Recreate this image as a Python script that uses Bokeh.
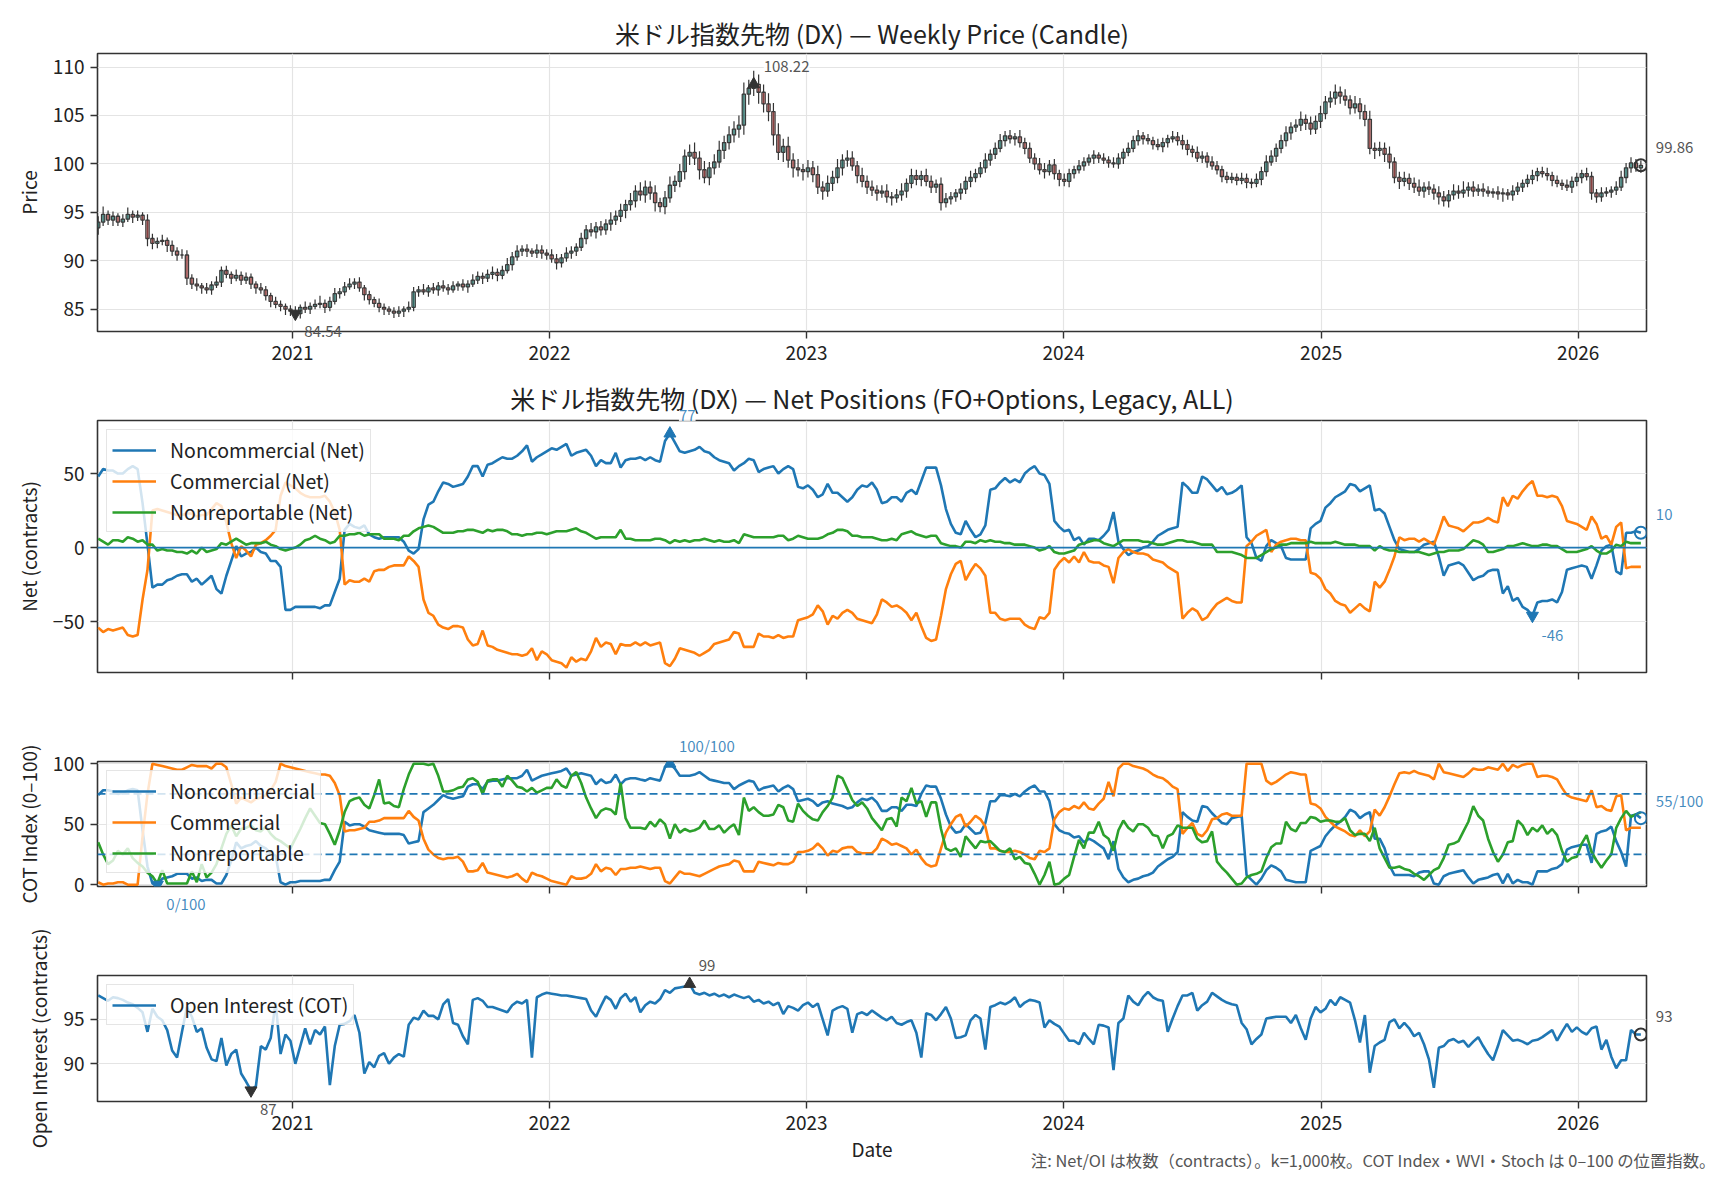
import numpy as np
import pandas as pd
from bokeh.plotting import figure
from bokeh.models import Range1d, FixedTicker, DatetimeTickFormatter, Span, Label
from bokeh.layouts import column
from bokeh.embed import file_html
from bokeh.resources import INLINE

FONT = "Noto Sans CJK JP"

# ---------------- data (weekly, from 2020-03-31) ----------------
close = [
94.0, 94.8, 94.2, 94.6, 94.0, 94.3, 94.8, 94.5, 94.7, 94.2,
92.3, 91.8, 92.0, 92.1, 91.6, 91.0, 90.6, 90.6, 88.2, 87.6,
87.4, 87.2, 87.0, 87.5, 87.8, 89.0, 88.6, 88.2, 88.5, 88.0,
88.3, 87.6, 87.2, 87.0, 86.4, 85.8, 85.5, 85.3, 85.0, 84.8,
84.54, 85.2, 85.0, 85.3, 85.5, 85.6, 85.2, 85.8, 86.6, 86.8,
87.3, 87.6, 87.8, 87.2, 86.5, 86.0, 85.6, 85.2, 85.0, 84.8,
84.6, 84.8, 85.0, 85.2, 86.8, 87.0, 86.8, 87.2, 87.0, 87.4,
87.2, 87.0, 87.4, 87.6, 87.3, 87.6, 88.0, 88.4, 88.2, 88.6,
88.8, 88.5, 89.0, 89.6, 90.4, 91.0, 91.2, 91.0, 90.8, 91.1,
90.8, 90.6, 90.2, 89.8, 90.3, 90.8, 91.0, 91.4, 92.3, 93.2,
93.0, 93.5, 93.2, 93.8, 94.2, 94.6, 95.2, 95.8, 96.2, 97.2,
96.8, 97.6, 97.0, 96.0, 95.6, 96.5, 97.8, 98.2, 99.2, 100.8,
101.2, 100.6, 99.4, 98.6, 99.6, 100.2, 101.4, 102.2, 103.0, 103.6,
104.0, 107.2, 107.8, 108.22, 107.4, 106.2, 105.4, 103.0, 101.2, 101.8,
100.4, 99.6, 99.4, 99.2, 99.6, 98.9, 97.6, 97.2, 98.0, 98.6,
99.6, 100.4, 100.6, 99.8, 98.8, 98.2, 97.6, 97.3, 97.0, 97.2,
96.6, 96.5, 96.8, 97.2, 98.0, 98.8, 98.4, 98.8, 98.2, 97.6,
97.9, 96.0, 96.4, 96.6, 97.0, 97.4, 98.2, 98.6, 99.0, 99.6,
100.4, 101.0, 101.6, 102.4, 102.9, 102.6, 102.8, 102.2, 101.6, 100.6,
100.0, 99.4, 99.2, 99.9, 99.0, 98.4, 98.2, 99.0, 99.4, 99.8,
100.2, 100.6, 100.9, 100.6, 100.4, 100.1, 100.0, 100.6, 101.2, 101.6,
102.4, 102.9, 102.6, 102.4, 102.0, 101.8, 102.2, 102.6, 102.8, 102.4,
102.0, 101.5, 101.2, 100.6, 100.8, 100.2, 99.8, 99.4, 98.7, 98.4,
98.6, 98.3, 98.5, 98.1, 98.0, 98.4, 99.2, 100.2, 100.8, 101.6,
102.4, 103.2, 103.8, 104.0, 104.6, 104.2, 103.6, 104.4, 105.2, 106.4,
106.8, 107.4, 107.0, 106.6, 105.8, 106.2, 105.4, 104.6, 101.6, 101.4,
101.6, 101.0, 100.2, 98.6, 98.2, 98.5, 98.0, 97.6, 97.2, 97.6,
97.4, 97.0, 96.6, 96.2, 96.8, 97.2, 97.0, 97.3, 97.6, 97.2,
97.4, 97.2, 97.0, 97.1, 96.9, 97.0, 96.8, 97.2, 97.6, 98.0,
98.4, 98.8, 99.2, 99.0, 98.8, 98.3, 98.0, 97.8, 97.6, 98.2,
98.6, 99.0, 98.7, 97.0, 96.6, 97.0, 97.1, 97.3, 97.6, 98.6,
99.6, 100.1, 99.6, 99.86]
first_open = 93.4

wick_up = [
0.6,0.8,0.4,0.5,0.3,0.5,0.7,0.4,0.5,0.3, 0.6,0.5,0.4,0.6,0.3,0.5,0.4,0.6,0.5,0.4,
0.6,0.3,0.5,0.4,0.6,0.4,0.5,0.3,0.6,0.4, 0.5,0.4,0.3,0.5,0.4,0.3,0.5,0.4,0.3,0.4,
0.5,0.3,0.6,0.4,0.5,0.8,0.4,0.5,0.6,0.4, 0.5,0.6,0.4,0.5,0.3,0.4,0.3,0.5,0.4,0.3,
0.4,0.5,0.3,0.6,0.5,0.4,0.6,0.3,0.5,0.4, 0.6,0.4,0.5,0.3,0.5,0.4,0.6,0.5,0.4,0.5,
0.6,0.4,0.5,0.7,0.5,0.6,0.4,0.5,0.3,0.6, 0.5,0.4,0.6,0.5,0.4,0.6,0.5,0.4,0.6,0.5,
0.7,0.5,0.6,0.5,0.8,0.6,0.7,0.5,0.8,0.6, 0.9,0.7,0.6,0.8,0.5,0.7,0.9,0.6,0.8,0.7,
0.8,1.0,0.7,0.9,0.6,0.8,1.0,0.7,0.9,0.8, 1.0,1.2,0.9,1.4,1.0,0.8,1.1,0.9,1.2,0.8,
1.0,0.7,0.9,0.6,0.8,0.7,0.9,0.6,0.8,0.7, 0.9,0.6,0.8,0.7,0.5,0.8,0.6,0.7,0.5,0.6,
0.7,0.5,0.6,0.8,0.5,0.7,0.6,0.5,0.7,0.6, 0.5,0.7,0.6,0.5,0.4,0.6,0.5,0.7,0.5,0.6,
0.7,0.5,0.6,0.7,0.5,0.6,0.4,0.7,0.5,0.6, 0.5,0.6,0.7,0.5,0.6,0.4,0.6,0.5,0.4,0.6,
0.5,0.4,0.5,0.3,0.5,0.4,0.6,0.5,0.4,0.6, 0.5,0.6,0.4,0.5,0.4,0.6,0.5,0.4,0.6,0.5,
0.6,0.5,0.4,0.6,0.5,0.4,0.6,0.5,0.4,0.5, 0.5,0.4,0.6,0.5,0.4,0.6,0.5,0.7,0.6,0.5,
0.6,0.7,0.5,0.6,0.8,0.5,0.7,0.6,0.8,0.6, 0.7,0.8,0.6,0.7,0.5,0.8,0.6,0.7,0.9,0.6,
0.7,0.6,0.8,0.5,0.6,0.7,0.5,0.6,0.8,0.5, 0.6,0.5,0.7,0.6,0.5,0.7,0.6,0.9,0.5,0.6,
0.5,0.6,0.5,0.4,0.6,0.5,0.4,0.6,0.5,0.4, 0.5,0.6,0.4,0.5,0.6,0.4,0.5,0.4,0.6,0.5,
0.5,0.4,0.6,0.5,0.4,0.6,0.5,0.4,0.6,0.7, 0.5,0.6,0.4,0.5]

wick_dn = [
0.7,0.4,0.5,0.6,0.4,0.5,0.3,0.6,0.4,0.5, 0.8,0.6,0.5,0.4,0.7,0.5,0.6,0.4,0.7,0.5,
0.5,0.6,0.4,0.5,0.3,0.5,0.4,0.6,0.3,0.5, 0.4,0.5,0.6,0.4,0.5,0.6,0.4,0.5,0.6,0.5,
0.6,0.5,0.4,0.5,0.3,0.4,0.6,0.4,0.3,0.5, 0.4,0.3,0.5,0.4,0.6,0.5,0.4,0.5,0.6,0.4,
0.5,0.4,0.6,0.3,0.4,0.5,0.3,0.5,0.4,0.6, 0.4,0.5,0.3,0.5,0.4,0.6,0.3,0.4,0.6,0.4,
0.5,0.6,0.4,0.3,0.6,0.4,0.5,0.6,0.4,0.5, 0.6,0.5,0.4,0.7,0.5,0.4,0.6,0.5,0.4,0.6,
0.5,0.7,0.6,0.5,0.7,0.5,0.6,0.8,0.6,0.7, 0.6,0.8,0.7,0.9,0.6,0.8,0.5,0.7,0.6,0.8,
0.9,0.7,1.0,0.6,0.8,0.7,0.6,0.9,0.7,0.8, 0.9,1.0,1.1,0.8,1.2,0.9,1.0,1.1,0.8,1.0,
0.8,1.0,0.7,0.9,0.6,0.8,0.7,0.9,0.6,0.8, 0.6,0.8,0.7,0.5,0.8,0.6,0.7,0.6,0.8,0.5,
0.6,0.8,0.5,0.6,0.7,0.5,0.6,0.7,0.5,0.6, 0.6,0.8,0.5,0.6,0.5,0.7,0.5,0.6,0.5,0.4,
0.5,0.6,0.5,0.4,0.6,0.5,0.7,0.5,0.6,0.5, 0.6,0.5,0.7,0.4,0.6,0.7,0.5,0.6,0.5,0.4,
0.5,0.4,0.6,0.5,0.4,0.5,0.4,0.5,0.6,0.4, 0.4,0.5,0.6,0.4,0.5,0.4,0.6,0.5,0.4,0.5,
0.5,0.6,0.5,0.4,0.5,0.6,0.4,0.5,0.6,0.4, 0.4,0.5,0.4,0.6,0.5,0.4,0.6,0.5,0.4,0.6,
0.5,0.6,0.7,0.5,0.6,0.7,0.6,0.5,0.7,0.6, 0.6,0.7,0.8,0.6,0.7,0.6,0.8,0.7,0.6,0.9,
0.6,0.8,0.7,0.6,0.8,0.5,0.7,0.6,0.5,0.7, 0.6,0.7,0.8,0.6,0.7,0.5,0.6,0.5,0.7,0.6,
0.5,0.6,0.4,0.5,0.6,0.8,0.5,0.6,0.4,0.5, 0.4,0.5,0.6,0.4,0.5,0.6,0.4,0.5,0.4,0.6,
0.5,0.6,0.4,0.7,0.6,0.5,0.4,0.6,0.5,0.4, 0.6,0.5,0.4,0.5]

# Net positions (thousand contracts)
net_noncomm = [
48,53,52,52,50,50,53,55,53,30, 2,-27,-25,-25,-22,-21,-19,-18,-18,-23,
-21,-25,-22,-19,-28,-31,-19,-9,1,-6, -4,-3,0,-3,-4,-9,-9,-13,-42,-42,
-40,-40,-40,-40,-40,-41,-39,-39,-30,-21, 12,16,14,13,15,9,7,6,7,7,
7,7,4,-2,-4,-1,19,29,31,38, 44,43,41,42,43,48,55,55,48,56,
57,59,61,60,60,62,65,69,58,61, 63,65,67,66,68,70,62,64,65,66,
62,55,59,57,57,64,54,59,60,60, 61,59,61,59,58,72,77,71,65,64,
65,66,68,65,64,61,59,58,57,52, 55,57,60,59,51,53,54,55,50,53,
55,53,41,40,42,39,34,36,43,37, 37,34,31,34,39,42,41,44,39,30,
31,34,34,31,37,39,36,45,54,54, 54,42,26,16,10,9,18,12,7,9,
15,39,40,44,47,44,46,44,50,53, 55,50,49,43,18,14,11,12,5,7,
2,6,6,5,8,12,24,4,-1,-5, -3,-2,0,1,4,8,10,12,13,14,
44,41,37,37,48,46,42,38,41,36, 37,39,42,7,3,-7,-9,1,5,3,
1,-7,-8,-8,-8,-8,13,16,18,27, 30,34,36,38,43,42,38,40,42,25,
26,23,14,5,-1,-2,-3,-3,-1,2, 3,4,-6,-19,-12,-11,-10,-12,-17,-22,
-20,-19,-16,-15,-15,-31,-26,-36,-34,-40, -42,-46,-37,-36,-36,-35,-37,-30,-15,-14,
-13,-12,-13,-21,-12,-2,1,2,-16,-18, 10,10,11,10]

net_comm = [
-54,-57,-55,-56,-55,-54,-59,-60,-59,-35, -15,25,26,25,24,23,22,22,23,23,
21,22,22,26,30,28,17,3,-7,1, -2,-6,2,3,5,8,12,35,44,42,
40,37,35,34,34,34,35,31,24,12, -25,-22,-23,-23,-21,-23,-16,-15,-15,-13,
-12,-12,-12,-6,-9,-13,-35,-44,-46,-52, -54,-55,-53,-53,-54,-62,-66,-65,-56,-66,
-67,-69,-70,-71,-72,-72,-73,-72,-68,-76, -70,-72,-76,-77,-78,-81,-74,-77,-75,-76,
-70,-61,-67,-64,-65,-72,-65,-66,-66,-64, -66,-64,-66,-65,-64,-78,-80,-75,-68,-69,
-70,-71,-73,-71,-69,-65,-64,-63,-62,-57, -58,-67,-67,-67,-58,-60,-60,-61,-59,-61,
-60,-60,-49,-48,-47,-45,-39,-43,-52,-46, -48,-44,-42,-44,-48,-49,-50,-51,-45,-35,
-37,-40,-39,-41,-44,-49,-44,-53,-61,-63, -62,-46,-28,-18,-11,-9,-22,-16,-11,-14,
-19,-44,-44,-48,-49,-48,-48,-48,-52,-54, -55,-47,-48,-44,-15,-10,-7,-10,-6,-10,
-3,-9,-10,-10,-12,-13,-24,-7,-3,-1, -3,-4,-4,-5,-8,-9,-10,-13,-15,-17,
-48,-44,-41,-43,-49,-47,-42,-38,-36,-34, -36,-37,-37,1,4,8,10,12,-3,2,
4,5,6,6,5,5,-17,-18,-21,-28, -31,-36,-38,-39,-44,-41,-38,-41,-43,-23,
-27,-23,-15,-6,7,5,6,6,4,6, 4,2,11,21,15,14,13,11,14,17,
17,18,20,18,17,34,28,35,33,38, 42,45,35,35,34,35,34,28,18,17,
16,14,12,21,16,6,8,2,14,17, -14,-13,-13,-13]

net_nonrep = [
6,4,2,5,5,4,7,6,4,5, 2,2,-2,-1,-2,-2,-3,-3,-4,-2,
-4,0,-3,-2,-1,3,2,4,6,4, 2,3,3,3,4,2,1,-1,-2,-1,
0,2,5,6,8,6,5,3,4,8, 8,9,9,10,8,9,9,9,6,6,
6,5,8,8,11,13,14,15,14,12, 10,10,10,11,11,12,12,11,10,12,
11,12,12,11,9,9,8,9,9,10, 10,9,10,11,11,11,12,13,11,10,
8,6,7,7,7,7,12,6,6,5, 5,5,5,6,6,5,3,5,4,5,
4,5,5,6,5,4,5,4,4,5, 3,9,8,7,7,7,7,7,8,8,
5,6,8,7,6,6,6,7,9,10, 12,12,11,8,8,7,7,7,6,5,
5,6,5,9,10,11,9,8,7,8, 8,3,2,1,1,0,4,4,3,5,
4,5,4,4,3,3,2,2,2,1, 0,-2,-1,1,-3,-4,-4,-3,-2,2,
3,4,5,5,3,2,1,3,5,5, 5,5,4,4,3,2,2,3,4,5,
5,4,4,3,2,2,2,-3,-3,-3, -3,-4,-5,-7,-7,-7,-5,-3,-1,0,
2,2,3,3,3,3,4,3,3,3, 3,4,3,2,2,2,1,1,1,-2,
1,-1,-2,-2,-3,-3,-3,-3,-3,-4, -5,-4,-3,-3,-2,-2,-2,-1,2,5,
4,2,-3,-3,-2,-1,1,1,2,3, 2,1,1,2,2,1,1,-1,-3,-3,
-3,-2,-1,1,-2,-4,-4,-2,2,1, 4,3,3,3]

# COT index (0-100)
cot_noncomm = [
74,78,78,77,75,76,78,79,78,45, 15,1,0,5,6,7,9,9,9,5,
6,3,4,4,1,1,8,20,35,30, 32,33,36,32,30,26,24,2,0,2,
2,3,3,3,3,3,4,4,12,19, 52,49,50,50,48,45,44,43,42,42,
42,42,41,34,35,36,60,63,66,70, 74,72,71,72,73,81,83,83,79,85,
86,86,87,88,88,88,90,95,86,88, 90,91,92,93,94,96,90,91,92,91,
90,83,87,84,85,91,83,87,88,88, 87,86,88,87,86,97,100,96,90,90,
90,91,93,90,87,86,85,84,84,79, 82,84,86,85,78,80,81,82,77,80,
82,79,69,70,71,69,65,68,69,67, 66,65,63,64,68,71,70,72,68,61,
61,64,64,61,66,66,65,75,82,81, 81,71,58,48,43,44,50,46,42,43,
51,69,69,74,74,73,75,73,77,80, 82,77,77,69,50,45,43,42,39,40,
35,38,36,33,30,21,36,13,6,2, 4,5,7,8,10,15,18,21,23,27,
60,56,53,52,65,64,59,55,51,50, 55,56,57,8,4,0,5,12,16,14,
11,4,3,2,2,2,28,30,32,40, 45,49,52,56,62,60,55,58,60,38,
38,30,16,8,8,8,8,7,10,11, 11,1,0,7,9,10,11,12,6,1,
4,5,6,8,9,1,9,1,4,2, 2,0,11,11,11,13,14,17,29,31,
32,33,33,18,42,44,45,48,36,27, 15,57,58,55]

cot_comm = [
2,0,1,1,2,2,0,0,0,40, 75,100,99,98,97,96,95,95,97,99,
98,98,98,96,100,100,97,83,67,72, 70,68,71,72,74,78,85,100,98,97,
96,95,94,93,92,91,91,90,84,74, 44,45,45,46,47,52,52,53,55,55,
55,55,55,61,56,53,38,29,25,22, 21,22,22,23,19,11,11,12,18,10,
9,8,7,6,7,9,5,2,10,8, 7,5,3,2,1,0,7,5,5,6,
9,17,11,14,13,8,13,13,14,14, 15,14,13,14,14,3,1,6,11,9,
9,8,7,9,11,13,15,16,17,20, 19,11,11,11,19,18,17,16,18,17,
17,19,27,27,28,30,34,30,24,28, 27,30,31,31,27,26,26,26,30,38,
36,33,34,32,30,25,29,22,17,15, 16,30,43,50,56,58,48,52,57,54,
48,30,30,28,27,27,28,27,25,22, 21,28,27,30,54,60,63,62,65,63,
68,63,62,67,71,85,73,96,100,100, 98,97,96,94,91,89,88,85,81,79,
42,47,51,42,40,45,54,55,58,59, 57,57,57,100,100,100,100,86,83,85,
88,91,93,92,91,91,67,66,63,56, 52,48,46,44,41,40,45,40,44,62,
57,64,73,83,92,93,92,94,92,91, 90,87,100,93,92,91,90,89,92,96,
95,95,97,96,95,100,94,99,97,99, 100,100,89,90,90,89,87,80,74,72,
71,70,69,78,64,65,62,61,73,74, 45,47,47,47]

cot_nonrep = [
35,25,17,20,28,25,30,22,18,15, 10,7,1,12,1,1,1,1,1,11,
2,17,6,10,17,30,42,49,40,46, 47,49,45,44,48,42,38,36,33,30,
38,46,55,63,57,51,50,42,33,45, 60,69,71,72,66,63,74,87,67,68,
65,64,79,91,100,100,100,99,100,90, 77,77,78,80,81,87,88,85,75,86,
87,87,81,90,86,81,80,77,80,76, 78,80,80,87,82,80,90,93,84,72,
63,55,61,63,62,58,84,55,47,47, 47,46,52,48,54,50,38,50,43,46,
44,45,47,53,46,46,49,43,47,50, 41,72,61,64,60,57,57,58,66,64,
53,52,67,61,57,54,53,60,65,72, 90,88,79,70,65,68,63,55,50,45,
54,55,48,72,69,80,67,69,56,68, 68,46,30,28,30,23,40,35,30,36,
35,36,32,28,27,30,21,23,18,17, 9,0,8,19,0,1,5,8,23,37,
30,43,43,52,41,38,28,45,53,47, 44,50,50,47,41,40,30,40,42,49,
47,47,47,38,35,36,44,19,14,10, 5,0,1,6,8,9,11,22,31,34,
34,52,46,44,51,51,56,55,52,53, 53,52,52,55,45,41,42,42,36,47,
30,22,14,14,15,13,12,9,7,4, 8,12,14,22,33,34,36,44,52,65,
57,53,38,27,19,25,35,36,53,49, 41,47,44,49,42,46,41,28,19,22,
23,34,41,27,20,14,20,25,47,55, 61,56,58,60]

# Open interest (thousand contracts)
open_interest = [
97.7,97.4,97.1,97.5,97.4,97.2,96.9,96.7,96.3,95.8, 93.6,96.2,95.3,94.9,93.8,91.5,90.7,93.6,96.4,95.3,
93.6,94.0,91.8,90.5,90.3,92.9,89.8,91.1,91.6,88.9, 88.0,87.0,87.5,92.0,91.6,92.9,96.9,91.1,93.3,92.6,
90.0,92.0,94.0,92.2,93.8,93.3,94.2,87.6,92.0,94.4, 94.5,94.8,95.5,93.5,88.9,90.2,89.6,90.9,91.2,90.0,
90.7,91.1,90.8,94.4,95.2,95.0,96.0,95.4,95.4,95.0, 96.7,97.3,94.6,94.4,93.1,92.2,97.2,97.4,97.1,96.4,
96.4,96.2,96.0,95.8,96.6,97.0,96.8,97.2,90.7,97.5, 97.8,98.0,97.9,97.8,97.7,97.7,97.6,97.5,97.4,97.3,
96.0,95.3,96.5,97.6,97.2,96.2,97.4,97.9,97.0,97.5, 95.8,96.6,97.0,96.8,97.3,98.3,98.0,98.5,98.6,98.7,
99.0,98.0,97.8,98.0,97.7,97.9,97.6,97.8,97.5,97.8, 97.6,97.4,97.6,97.0,97.2,96.8,97.0,96.6,96.9,95.6,
96.5,96.3,96.0,96.6,96.9,96.4,96.8,95.0,93.2,96.0, 96.3,96.5,96.2,93.5,95.6,95.8,95.5,96.0,95.6,95.2,
94.9,95.3,94.6,94.4,94.7,94.9,93.5,90.7,95.7,95.5, 94.9,95.6,96.4,95.1,92.9,93.0,93.2,94.9,95.5,95.1,
91.6,96.4,96.6,96.9,96.7,97.0,97.5,96.4,96.9,97.2, 97.1,96.9,94.1,94.9,94.5,94.2,93.4,92.6,92.6,92.2,
93.5,92.8,92.2,94.4,94.3,94.1,89.3,94.6,95.1,97.7, 97.0,96.6,97.5,98.1,97.5,97.2,97.1,93.6,95.1,96.5,
97.7,97.7,98.0,96.0,96.6,97.0,98.0,97.6,97.2,96.9, 96.7,96.6,94.6,93.9,92.2,92.8,93.3,95.1,95.2,95.3,
95.3,95.3,94.6,95.5,94.0,92.7,95.1,96.4,95.8,96.2, 97.2,96.6,97.5,97.2,96.9,94.9,92.4,95.5,89.0,92.0,
92.4,92.7,94.7,95.0,94.0,94.6,94.0,93.1,93.5,92.2, 90.5,87.3,91.8,92.0,92.6,92.8,92.4,92.6,91.9,92.5,
93.0,92.0,91.1,90.4,92.0,93.8,93.2,92.6,92.7,92.5, 92.2,92.6,92.7,93.0,93.4,93.8,92.6,93.6,94.5,93.6,
94.1,93.6,93.3,94.0,94.2,91.6,92.7,90.8,89.5,90.4, 90.4,93.8,93.3,93.3]

year_ticks = ["2021-01-01", "2022-01-01", "2023-01-01", "2024-01-01", "2025-01-01", "2026-01-01"]

TITLE_PRICE = "米ドル指数先物 (DX) — Weekly Price (Candle)"
TITLE_NET = "米ドル指数先物 (DX) — Net Positions (FO+Options, Legacy, ALL)"
NOTE = "注: Net/OI は枚数（contracts）。k=1,000枚。COT Index・WVI・Stoch は 0–100 の位置指数。"

N = len(close)
for name, arr in [("wick_up", wick_up), ("wick_dn", wick_dn), ("net_noncomm", net_noncomm),
                  ("net_comm", net_comm), ("net_nonrep", net_nonrep), ("cot_noncomm", cot_noncomm),
                  ("cot_comm", cot_comm), ("cot_nonrep", cot_nonrep), ("open_interest", open_interest)]:
    if len(arr) != N:
        raise ValueError(f"{name} has {len(arr)} values, expected {N}")

dates = pd.date_range("2020-03-31", periods=N, freq="7D")
x = dates.asi8 / 1e6  # ms
DAY = 86400000.0

close_a = np.array(close)
open_a = np.concatenate([[first_open], close_a[:-1]])
high_a = np.maximum(open_a, close_a) + np.array(wick_up)
low_a = np.minimum(open_a, close_a) - np.array(wick_dn)

BLUE, ORANGE, GREEN = "#1f77b4", "#ff7f0e", "#2ca02c"
DARK = "#333333"
GRAY = "#555555"

xr = Range1d(start=x[0] - 1 * DAY, end=x[-1] + 8 * DAY)
x_mid = (xr.start + xr.end) / 2
tick_ms = [pd.Timestamp(t).value / 1e6 for t in year_ticks]

W = 1720
BL, BR = 97, 74


def make_fig(height, top, bottom, yr, yticks, ylabel, xlabels=True, xlabel=None):
    p = figure(width=W, height=height, x_axis_type="datetime", x_range=xr,
               y_range=Range1d(*yr), output_backend="svg", toolbar_location=None,
               min_border_left=BL, min_border_right=BR, min_border_top=top,
               min_border_bottom=bottom, title=None)
    p.background_fill_color = "white"
    p.border_fill_color = "white"
    p.outline_line_color = DARK
    p.outline_line_width = 1.6
    p.outline_line_alpha = 1.0
    xt = FixedTicker(ticks=tick_ms)
    p.xaxis.ticker = xt
    p.xgrid.ticker = xt
    p.xaxis.formatter = DatetimeTickFormatter(years="%Y", months="%Y", days="%Y",
                                              hours="%Y", context=None)
    yt = FixedTicker(ticks=yticks)
    p.yaxis.ticker = yt
    p.ygrid.ticker = yt
    for g in (p.xgrid, p.ygrid):
        g.grid_line_color = "#e4e4e4"
        g.grid_line_width = 1.2
    for ax in p.axis:
        ax.axis_line_color = None
        ax.major_tick_line_color = DARK
        ax.major_tick_line_width = 1.4
        ax.major_tick_out = 7
        ax.major_tick_in = 0
        ax.minor_tick_line_color = None
        ax.major_label_text_font = FONT
        ax.major_label_text_font_size = "19px"
        ax.major_label_text_color = "#222222"
        ax.axis_label_text_font = FONT
        ax.axis_label_text_font_size = "19px"
        ax.axis_label_text_font_style = "normal"
        ax.axis_label_text_color = "#222222"
    p.xaxis.major_label_standoff = 7
    p.yaxis.major_label_standoff = 6
    p.yaxis.axis_label = ylabel
    p.yaxis.axis_label_standoff = 8
    if not xlabels:
        p.xaxis.major_label_text_font_size = "1px"
        p.xaxis.major_label_text_color = None
    if xlabel:
        p.xaxis.axis_label = xlabel
        p.xaxis.axis_label_standoff = 2
    return p


def add_label(p, xv, yv, text, color, xo, yo, align="left", size="15px", bg=False,
              alpha=1.0, side="center"):
    """Label positioned in data coordinates; labels lying outside the frame are
    attached to a side panel so that they are not clipped by the frame."""
    lab = Label(x=xv, y=yv, text=text, x_offset=xo, y_offset=yo, text_color=color,
                text_alpha=alpha, text_font=FONT, text_font_size=size, text_align=align,
                text_baseline="middle")
    if bg:
        lab.background_fill_color = "white"
        lab.background_fill_alpha = 0.85
    p.add_layout(lab, side)


def add_title(p, text, y_top, yo):
    add_label(p, x_mid, y_top, text, "#222222", 0, yo, align="center", size="25px", side="above")


def style_legend(p):
    lg = p.legend[0]
    lg.location = "top_left"
    lg.label_text_font = FONT
    lg.label_text_font_size = "19.5px"
    lg.label_text_color = "#222222"
    lg.glyph_width = 44
    lg.glyph_height = 22
    lg.label_height = 22
    lg.label_standoff = 14
    lg.spacing = 2
    lg.padding = 5
    lg.margin = 9
    lg.border_line_color = "#cccccc"
    lg.border_line_width = 1.2
    lg.background_fill_alpha = 0.8


# ---------------- panel 1: candles ----------------
Y1 = (82.7, 111.4)
p1 = make_fig(380, 53, 49, Y1, [85, 90, 95, 100, 105, 110], "Price")
add_title(p1, TITLE_PRICE, Y1[1], 21)
up = close_a >= open_a
body_col = np.where(up, "#26a69a", "#ef5350")
p1.segment(x0=x, y0=high_a, x1=x, y1=low_a, line_color=DARK, line_width=1.2)
p1.vbar(x=x, width=4.6 * DAY, top=np.maximum(open_a, close_a), bottom=np.minimum(open_a, close_a),
        fill_color=list(body_col), fill_alpha=0.45, line_color="#3a3a3a", line_width=1.3)
imax, imin = int(np.argmax(close_a)), int(np.argmin(close_a))
p1.scatter(x=[x[imax]], y=[close_a[imax]], marker="triangle", size=12, color=DARK)
p1.scatter(x=[x[imin]], y=[close_a[imin]], marker="inverted_triangle", size=12, color=DARK)
p1.scatter(x=[x[-1]], y=[close_a[-1]], marker="circle", size=12, fill_color=None,
           line_color=DARK, line_width=2)
add_label(p1, x[imax], close_a[imax], f"{close_a[imax]:.2f}", GRAY, 10, 18, bg=True)
add_label(p1, x[imin], close_a[imin], f"{close_a[imin]:.2f}", GRAY, 9, -18, side="above")
add_label(p1, x[-1], close_a[-1], f"{close_a[-1]:.2f}", GRAY, 15, 18, side="right")

# ---------------- panel 2: net positions ----------------
Y2 = (-84.3, 85.8)
p2 = make_fig(320, 40, 28, Y2, [-50, 0, 50], "Net (contracts)", xlabels=False)
add_title(p2, TITLE_NET, Y2[1], 23)
p2.add_layout(Span(location=0, dimension="width", line_color=BLUE, line_width=1.6))
nc = np.array(net_noncomm, dtype=float)
p2.line(x, nc, line_color=BLUE, line_width=2.6, legend_label="Noncommercial (Net)")
p2.line(x, net_comm, line_color=ORANGE, line_width=2.6, legend_label="Commercial (Net)")
p2.line(x, net_nonrep, line_color=GREEN, line_width=2.6, legend_label="Nonreportable (Net)")
jmax, jmin = int(np.argmax(nc)), int(np.argmin(nc))
p2.scatter(x=[x[jmax]], y=[nc[jmax]], marker="triangle", size=12, color=BLUE)
p2.scatter(x=[x[jmin]], y=[nc[jmin]], marker="inverted_triangle", size=12, color=BLUE)
p2.scatter(x=[x[-1]], y=[nc[-1]], marker="circle", size=12, fill_color=None,
           line_color=BLUE, line_width=2)
add_label(p2, x[jmax], nc[jmax], f"{nc[jmax]:.0f}", BLUE, 9, 18, bg=True, alpha=0.85, side="right")
add_label(p2, x[jmin], nc[jmin], f"{nc[jmin]:.0f}", BLUE, 9, -20, alpha=0.85)
add_label(p2, x[-1], nc[-1], f"{nc[-1]:.0f}", BLUE, 15, 18, alpha=0.85, side="right")
style_legend(p2)

# ---------------- panel 3: COT index ----------------
p3 = make_fig(220, 61, 34, (-1.5, 101.8), [0, 50, 100], "COT Index (0–100)", xlabels=False)
for lv in (75, 25):
    p3.add_layout(Span(location=lv, dimension="width", line_color=BLUE, line_width=1.8,
                       line_dash="8 4"))
ci = np.array(cot_noncomm, dtype=float)
p3.line(x, ci, line_color=BLUE, line_width=2.6, legend_label="Noncommercial")
p3.line(x, cot_comm, line_color=ORANGE, line_width=2.6, legend_label="Commercial")
p3.line(x, cot_nonrep, line_color=GREEN, line_width=2.6, legend_label="Nonreportable")
kmax, kmin = int(np.argmax(ci)), int(np.argmin(ci))
p3.scatter(x=[x[kmax]], y=[ci[kmax]], marker="triangle", size=12, color=BLUE)
p3.scatter(x=[x[kmin]], y=[ci[kmin]], marker="inverted_triangle", size=12, color=BLUE)
p3.scatter(x=[x[-1]], y=[ci[-1]], marker="circle", size=12, fill_color=None,
           line_color=BLUE, line_width=2)
add_label(p3, x[kmax], ci[kmax], f"{ci[kmax]:.0f}/100", BLUE, 9, 18, alpha=0.85, side="above")
add_label(p3, x[kmin], ci[kmin], f"{ci[kmin]:.0f}/100", BLUE, 9, -19, alpha=0.85, side="above")
add_label(p3, x[-1], ci[-1], f"{ci[-1]:.0f}/100", BLUE, 15, 18, alpha=0.85, side="right")
style_legend(p3)

# ---------------- panel 4: open interest ----------------
Y4 = (85.75, 99.95)
p4 = make_fig(256, 55, 75, Y4, [90, 95], "Open Interest (contracts)", xlabel="Date")
oi = np.array(open_interest, dtype=float)
p4.line(x, oi, line_color=BLUE, line_width=2.6, legend_label="Open Interest (COT)")
mmax, mmin = int(np.argmax(oi)), int(np.argmin(oi))
p4.scatter(x=[x[mmax]], y=[oi[mmax]], marker="triangle", size=12, color=DARK)
p4.scatter(x=[x[mmin]], y=[oi[mmin]], marker="inverted_triangle", size=12, color=DARK)
p4.scatter(x=[x[-1]], y=[oi[-1]], marker="circle", size=12, fill_color=None,
           line_color=DARK, line_width=2)
add_label(p4, x[mmax], oi[mmax], f"{oi[mmax]:.0f}", GRAY, 9, 18, side="right")
add_label(p4, x[mmin], oi[mmin], f"{oi[mmin]:.0f}", GRAY, 9, -19, side="right")
add_label(p4, x[-1], oi[-1], f"{oi[-1]:.0f}", GRAY, 15, 18, side="right")
style_legend(p4)

add_label(p4, xr.end, Y4[0], NOTE, GRAY, 69, -58, align="right", size="16.4px", side="above")

layout = column(p1, p2, p3, p4, spacing=0)
open("out.html", "w").write(file_html(layout, INLINE))
